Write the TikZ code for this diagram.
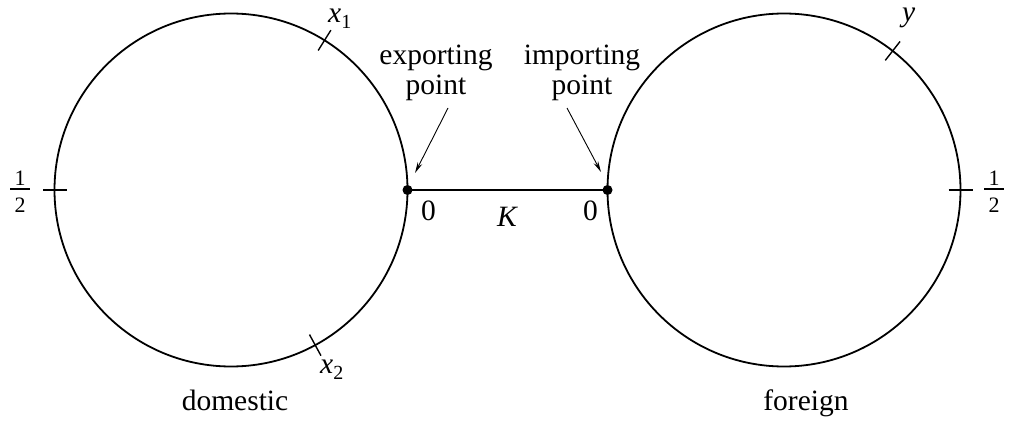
\documentclass[tikz,border=0pt]{standalone}
\usepackage{fontspec}
\setmainfont{Liberation Serif}
\usetikzlibrary{calc,arrows.meta}
\begin{document}
\begin{tikzpicture}[x=1pt,y=1pt,
  circ/.style={line width=1.8pt},
  tickmark/.style={line width=1.4pt},
  lbl/.style={inner sep=0pt, font=\fontsize{29.5}{30}\selectfont},
  num/.style={inner sep=0pt, font=\fontsize{22}{22}\selectfont},
  dotn/.style={circle, fill=black, inner sep=0pt, minimum size=10pt},
  ptr/.style={line width=0.9pt, -{Stealth[length=11pt,width=5pt]}}]
\useasboundingbox (0,0) rectangle (1009,421);
\coordinate (L) at (231,231);
\coordinate (R) at (784,231);
\draw[circ] (L) circle[radius=176.5];
\draw[circ] (R) circle[radius=176.5];
\node[dotn] (ex) at (407.5,231) {};
\node[dotn] (im) at (607.5,231) {};
\draw[circ] (ex.center) -- (im.center);
% ticks
\draw[tickmark] ($(L)+(58:164.5)$) -- ($(L)+(58:188.5)$);
\draw[tickmark] ($(L)+(-61.5:164.5)$) -- ($(L)+(-61.5:188.5)$);
\draw[tickmark] ($(L)+(180:164.5)$) -- ($(L)+(180:188.5)$);
\draw[tickmark] ($(R)+(52:164.5)$) -- ($(R)+(52:188.5)$);
\draw[tickmark] ($(R)+(0:164.5)$) -- ($(R)+(0:188.5)$);
% labels
\node[lbl, anchor=base west] (x1) at (328,398) {\textit{x}\raisebox{-6pt}{\fontsize{20}{20}\selectfont 1}};
\node[lbl, anchor=base west] (x2) at (320,48) {\textit{x}\raisebox{-6pt}{\fontsize{20}{20}\selectfont 2}};
\node[lbl, anchor=base west] (yl) at (902,399) {\textit{y}};
\node[lbl, align=center, anchor=base] (exl) at (436,326) {exporting\\point};
\node[lbl, align=center, anchor=base] (iml) at (582,326) {importing\\point};
\node[lbl, anchor=base] (z1) at (428.5,201) {0};
\node[lbl, anchor=base west] (kl) at (497,195) {\textit{K}};
\node[lbl, anchor=base] (z2) at (590.5,201) {0};
\node[lbl, anchor=base] (dom) at (235,11) {domestic};
\node[lbl, anchor=base] (for) at (806,11) {foreign};
% one-half fractions
\node[num, anchor=base] (hln) at (20,235) {1};
\node[num, anchor=base] (hld) at (20,208) {2};
\draw[tickmark] (hln.south) ++(-10,-3) coordinate (hlb) -- ++(20,0);
\node[num, anchor=base] (hrn) at (994,235) {1};
\node[num, anchor=base] (hrd) at (994,208) {2};
\draw[tickmark] (hrn.south) ++(-10,-3) coordinate (hrb) -- ++(20,0);
% pointers
\coordinate (exs) at (448,313);
\coordinate (exe) at (415,248);
\coordinate (ims) at (567,313);
\coordinate (ime) at (601,249);
\draw[ptr] (exs) -- (exe);
\draw[ptr] (ims) -- (ime);
\end{tikzpicture}
\end{document}
